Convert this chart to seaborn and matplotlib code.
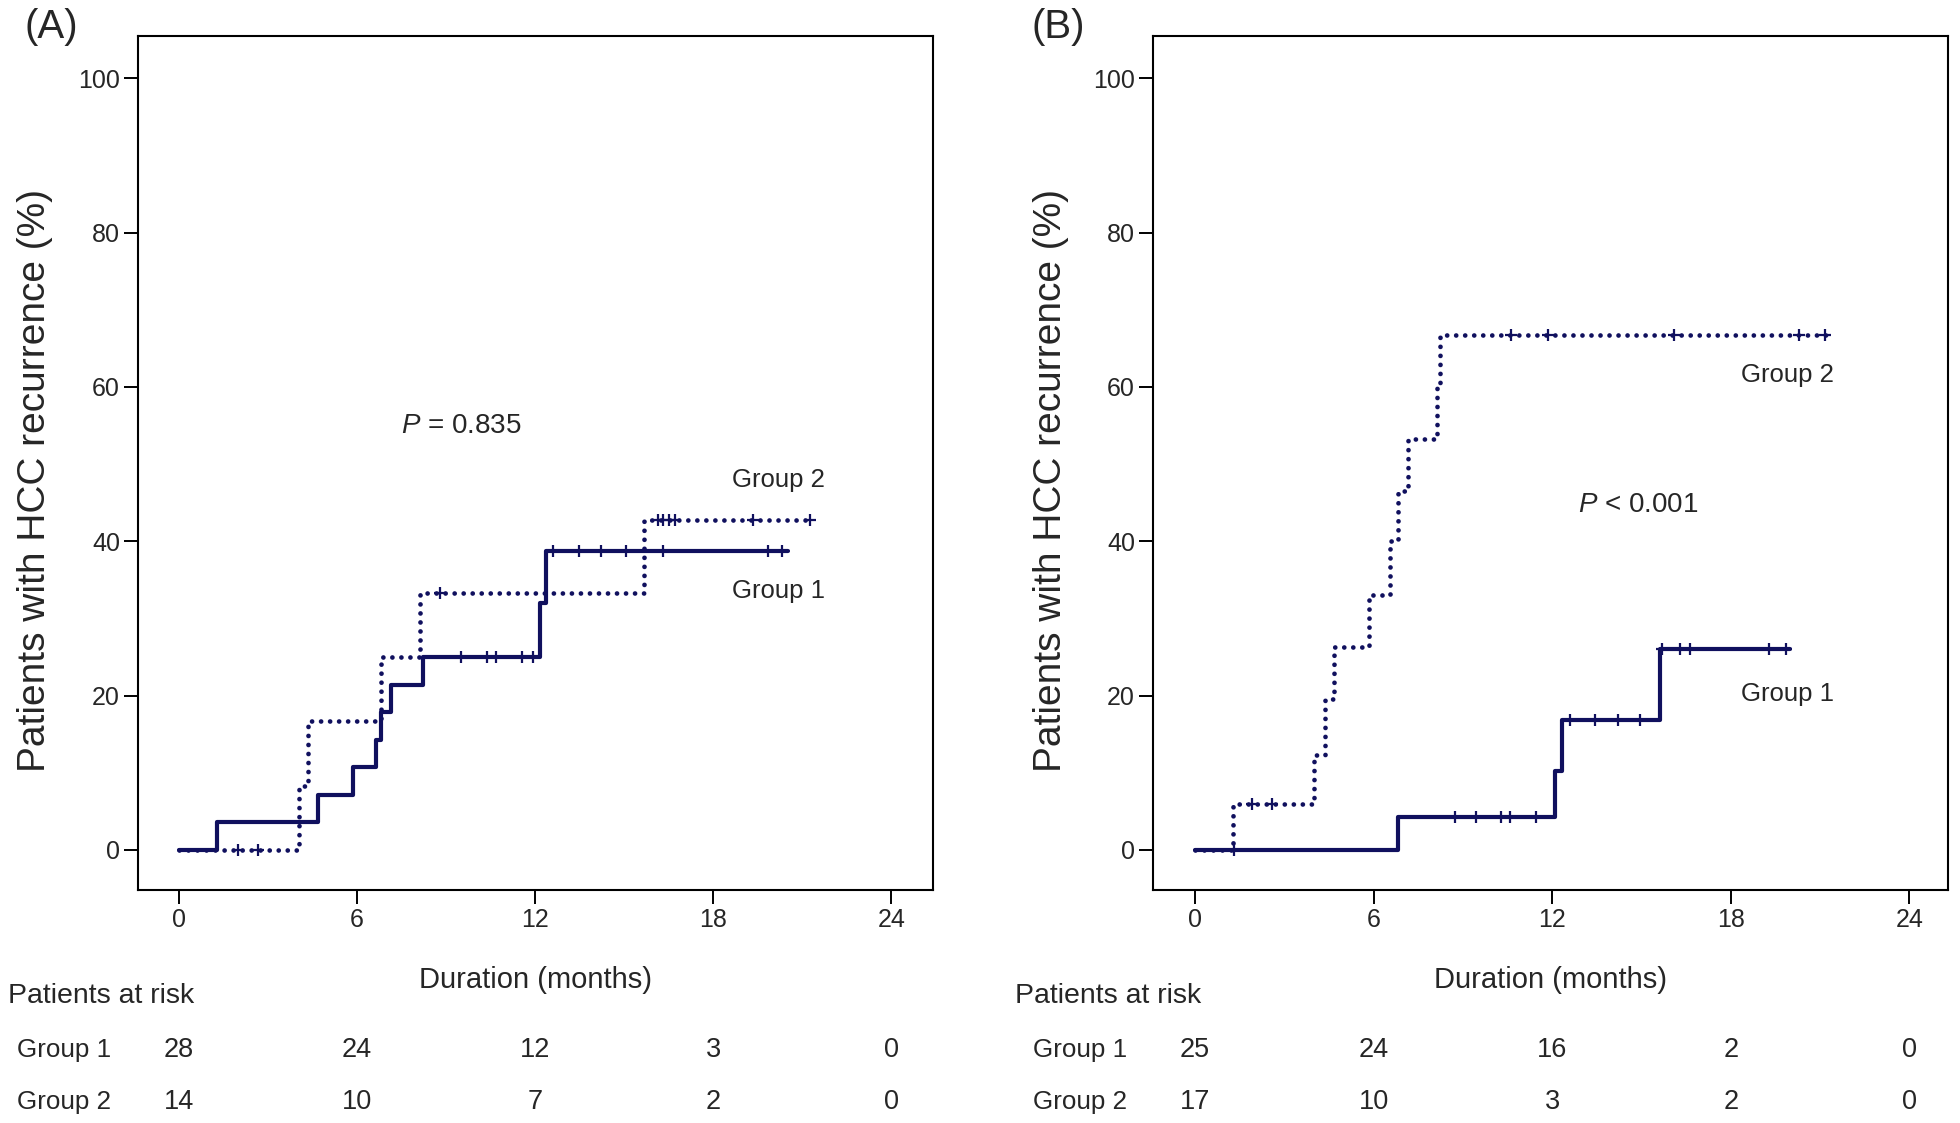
import numpy as np
import pandas as pd
import matplotlib
matplotlib.use('Agg')
import matplotlib.pyplot as plt
import matplotlib.transforms as mtransforms
import seaborn as sns

# ---- data (months / % recurrence) ----
# panel A
a_g1_times = [0, 1.27, 4.68, 5.85, 6.63, 6.82, 7.16, 8.23, 12.15, 12.38, 20.5]
a_g1_vals = [0, 3.6, 7.1, 10.7, 14.3, 17.9, 21.4, 25.0, 32.0, 38.8, 38.8]
a_g1_cens = [9.5, 10.37, 10.67, 11.54, 11.92, 12.6, 13.47, 14.23, 15.07, 16.3, 19.84, 20.3]
a_g2_times = [0, 4.04, 4.36, 6.82, 8.11, 15.66, 21.35]
a_g2_vals = [0, 8.3, 16.7, 25.0, 33.3, 42.8, 42.8]
a_g2_cens = [2.0, 2.67, 8.79, 16.14, 16.3, 16.5, 16.7, 19.34, 21.25]
# panel B
b_g1_times = [0, 6.83, 12.1, 12.33, 15.63, 20.0]
b_g1_vals = [0, 4.3, 10.2, 16.8, 26.0, 26.0]
b_g1_cens = [1.3, 8.73, 9.45, 10.29, 10.59, 11.46, 12.6, 13.45, 14.2, 14.96, 15.69, 16.28, 16.64, 19.3, 19.87]
b_g2_times = [0, 1.26, 3.99, 4.35, 4.68, 5.83, 6.56, 6.83, 7.17, 8.12, 8.23, 21.35]
b_g2_vals = [0, 5.9, 12.3, 19.6, 26.3, 33.0, 40.0, 46.5, 53.3, 60.0, 66.7, 66.7]
b_g2_cens = [1.93, 2.6, 10.6, 11.85, 16.08, 20.3, 21.18]

risk_times = [0, 6, 12, 18, 24]
a_risk_g1 = [28, 24, 12, 3, 0]
a_risk_g2 = [14, 10, 7, 2, 0]
b_risk_g1 = [25, 24, 16, 2, 0]
b_risk_g2 = [17, 10, 3, 2, 0]

a_pval = '= 0.835'
b_pval = '< 0.001'

sns.set_theme(style='white')
plt.rcParams['font.family'] = ['Liberation Sans', 'DejaVu Sans']
plt.rcParams['mathtext.fontset'] = 'custom'
plt.rcParams['mathtext.it'] = 'Liberation Sans:italic'
plt.rcParams['mathtext.rm'] = 'Liberation Sans'

navy = '#10105e'

fig = plt.figure(figsize=(19.6, 11.23), dpi=100)
axA = fig.add_axes([0.0704, 0.2075, 0.4056, 0.7605])
axB = fig.add_axes([0.5883, 0.2075, 0.4056, 0.7605])


def step_at(times, vals, t):
    i = np.searchsorted(times, t, side='right') - 1
    return vals[i]


def draw_curve(ax, times, vals, cens, dotted):
    df = pd.DataFrame({'t': times, 'v': vals})
    kw = dict(lw=3.0, color=navy)
    if dotted:
        kw.update(linestyle=(0, (0.01, 1.9)), dash_capstyle='round', lw=3.4)
    sns.lineplot(data=df, x='t', y='v', drawstyle='steps-post', estimator=None,
                 sort=False, ax=ax, **kw)
    cy = [step_at(times, vals, t) for t in cens]
    sns.scatterplot(x=cens, y=cy, marker='+', s=70, linewidth=1.6, color=navy, ax=ax, zorder=3)


def panel(ax, g1, g2, pval, ppos, lab2, lab1, risk1, risk2, letter, xleft, xgrp, xlim):
    draw_curve(ax, *g1, dotted=False)
    draw_curve(ax, *g2, dotted=True)
    ax.set_xlim(*xlim)
    ax.set_ylim(-5.2, 105.5)
    ax.set_xticks([0, 6, 12, 18, 24])
    ax.set_yticks([0, 20, 40, 60, 80, 100])
    ax.tick_params(direction='out', length=10, width=1.4, pad=3, labelsize=18,
                   color='black', bottom=True, left=True)
    for s in ax.spines.values():
        s.set_color('black')
        s.set_linewidth(1.5)
    ax.set_xlabel('')
    ax.set_ylabel('')
    ax.text(0.5, -0.105, 'Duration (months)', transform=ax.transAxes, ha='center', va='center',
            fontsize=21)
    ax.text(-0.129, 0.479, 'Patients with HCC recurrence (%)', transform=ax.transAxes,
            ha='center', va='center', rotation=90, fontsize=28)
    ax.text(ppos[0], ppos[1], r'$P$ ' + pval, ha='center', va='center', fontsize=20)
    ax.text(lab2[0], lab2[1], 'Group 2', ha='center', va='center', fontsize=18.5)
    ax.text(lab1[0], lab1[1], 'Group 1', ha='center', va='center', fontsize=18.5)

    # number at risk table under the axis
    tr = mtransforms.blended_transform_factory(ax.transData, fig.transFigure)
    fig.text(xleft, 0.113, 'Patients at risk', ha='left', va='center', fontsize=20.5)
    fig.text(xgrp, 0.065, 'Group 1', ha='left', va='center', fontsize=18.7)
    fig.text(xgrp, 0.019, 'Group 2', ha='left', va='center', fontsize=18.7)
    for t, n1, n2 in zip(risk_times, risk1, risk2):
        ax.text(t, 0.065, str(n1), transform=tr, ha='center', va='center', fontsize=19.5)
        ax.text(t, 0.019, str(n2), transform=tr, ha='center', va='center', fontsize=19.5)

    fig.text(xleft + 0.022, 0.976, letter, ha='center', va='center', fontsize=29)


panel(axA, (a_g1_times, a_g1_vals, a_g1_cens), (a_g2_times, a_g2_vals, a_g2_cens),
      a_pval, (9.5, 55.0), (20.2, 48.0), (20.2, 33.6), a_risk_g1, a_risk_g2, '(A)',
      0.004, 0.0087, (-1.38, 25.4))
panel(axB, (b_g1_times, b_g1_vals, b_g1_cens), (b_g2_times, b_g2_vals, b_g2_cens),
      b_pval, (14.9, 44.7), (19.9, 61.5), (19.9, 20.2), b_risk_g1, b_risk_g2, '(B)',
      0.518, 0.5268, (-1.41, 25.3))

fig.savefig('out.png', dpi=100)
